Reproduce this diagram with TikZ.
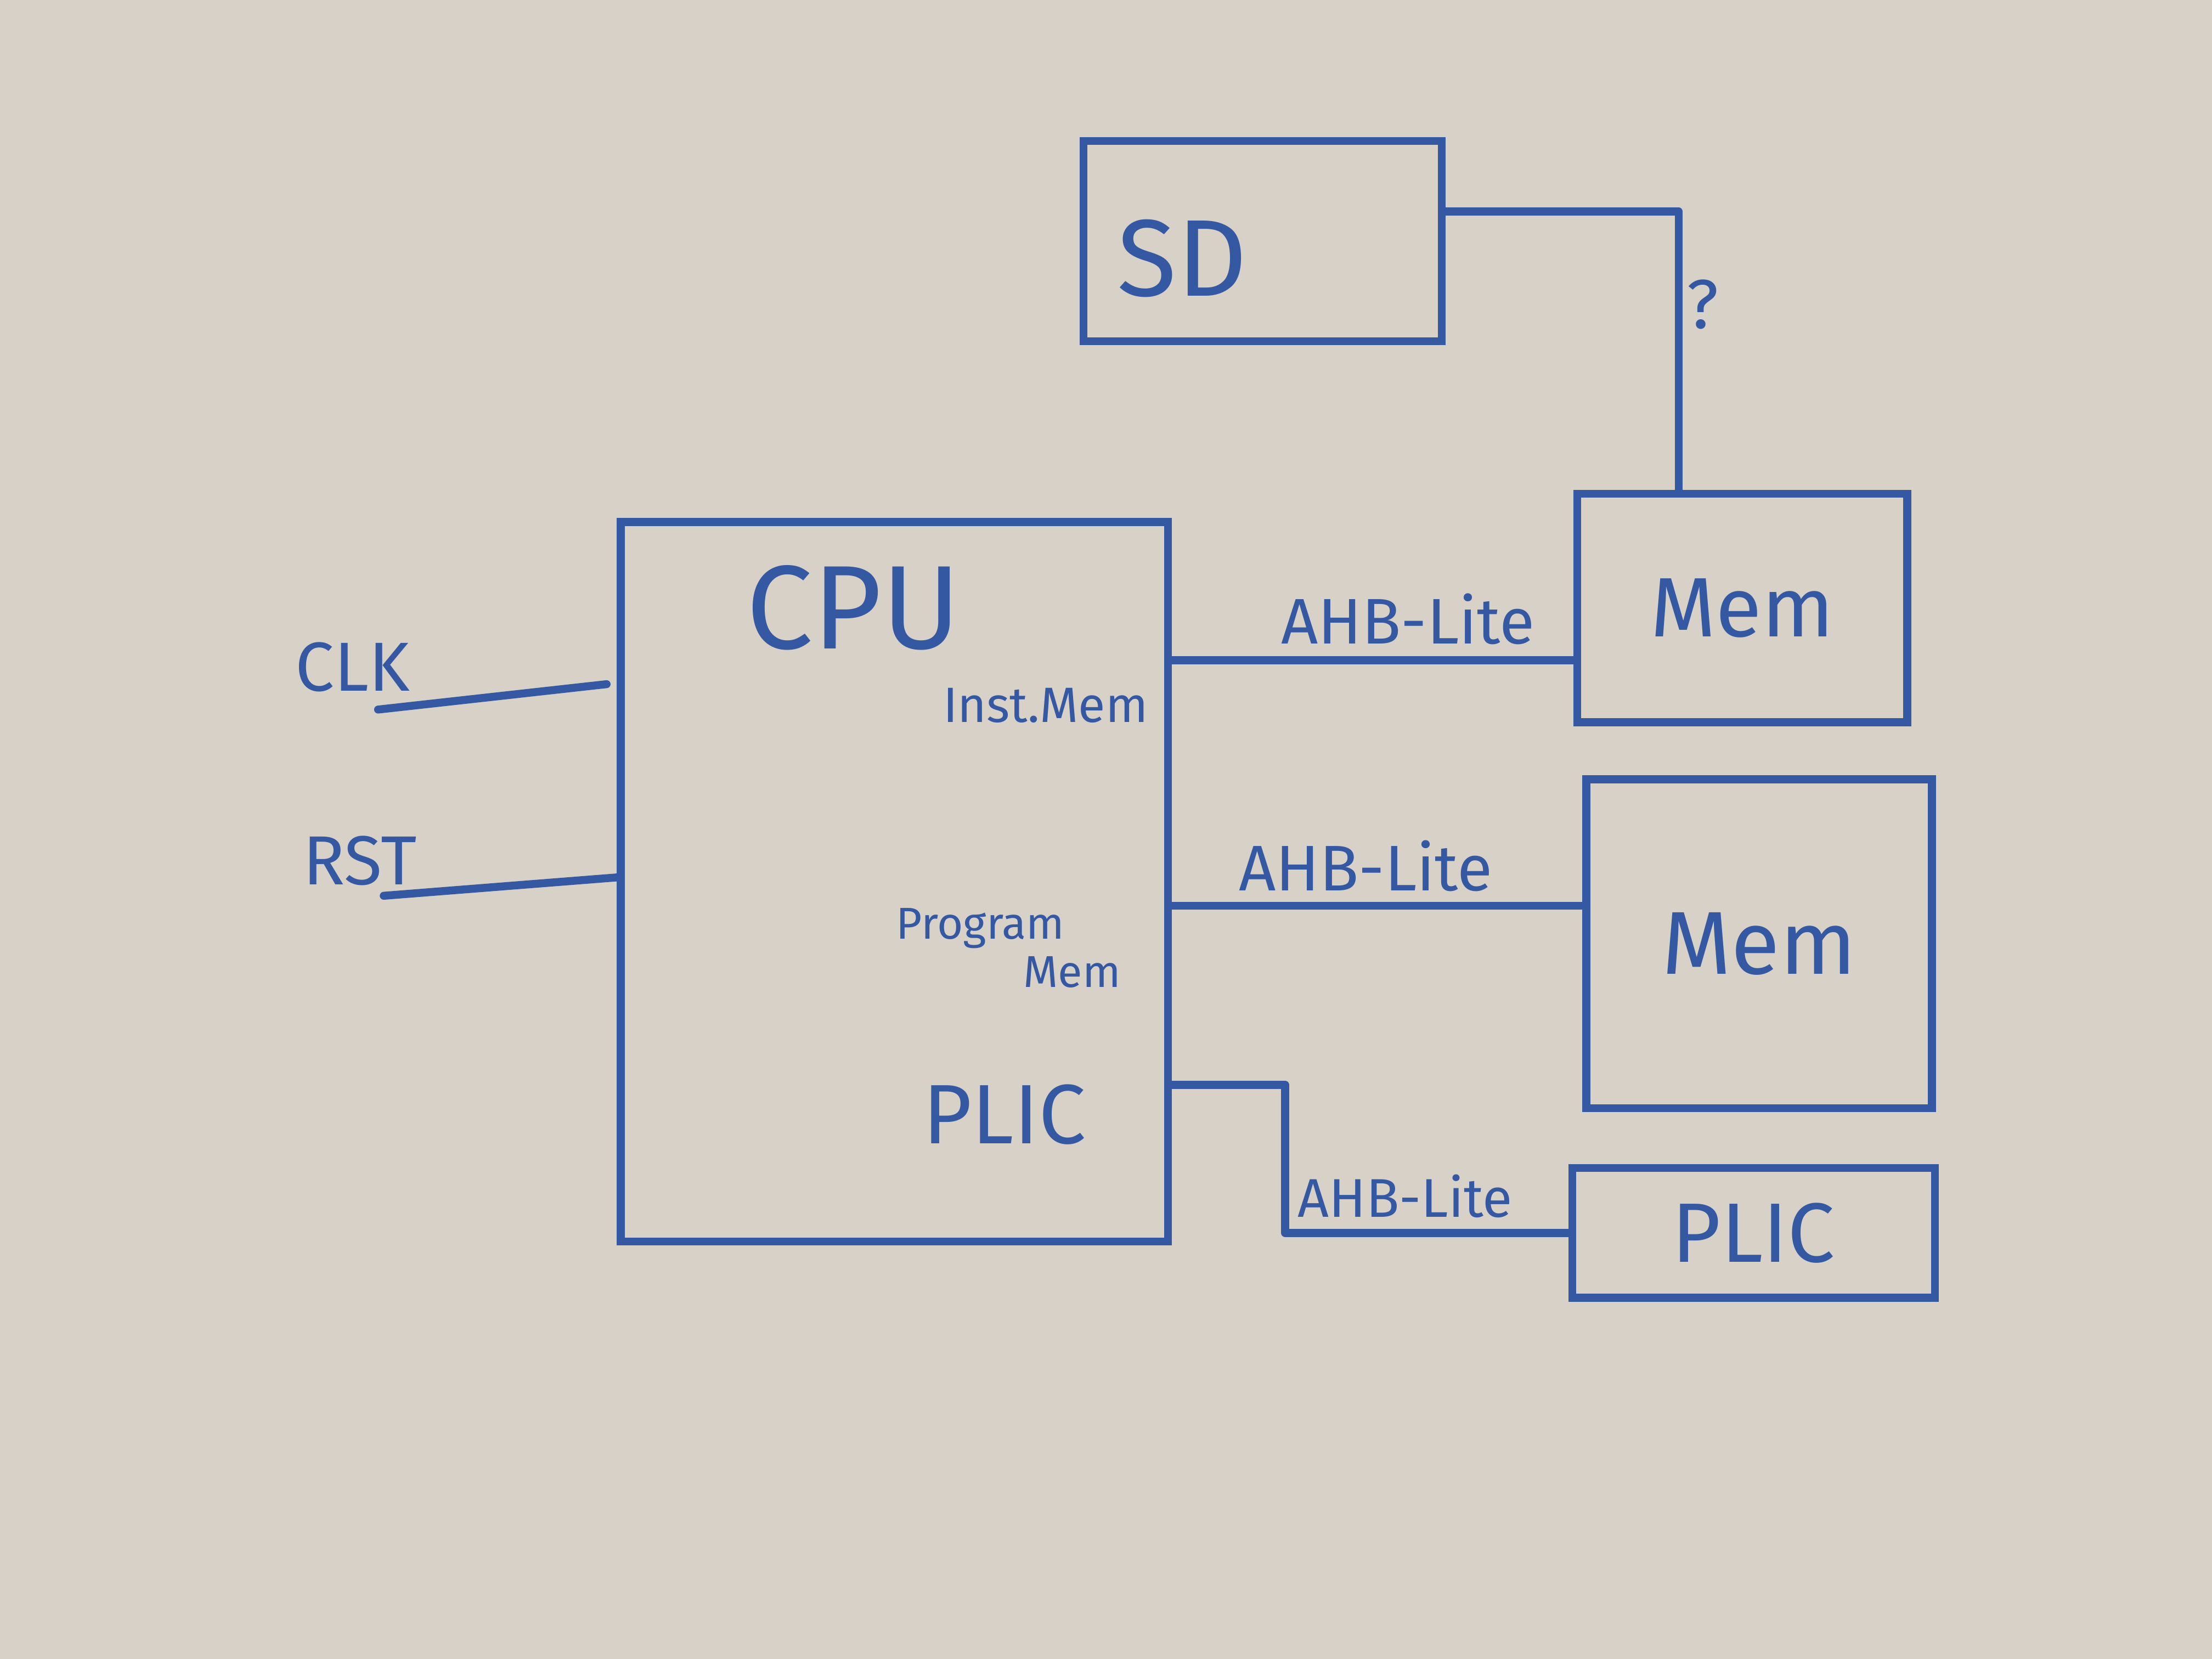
\documentclass[tikz,border=0pt]{standalone}
\usepackage{fontspec}
\setmainfont{Fira Sans}
\definecolor{ink}{HTML}{3558A3}
\definecolor{board}{HTML}{D7D1C7}

\begin{document}
\begin{tikzpicture}[font=\fontsize{12}{12}\selectfont,
  blk/.style={draw=ink,line width=1.6pt,shape=rectangle,text=ink,inner sep=0pt},
  wire/.style={draw=ink,line width=1.6pt,line cap=round,line join=round},
  lbl/.style={text=ink,inner sep=1pt}]
\path[fill=board] (0,0) rectangle (15.68,11.76);
\useasboundingbox (0,0) rectangle (15.68,11.76);
% blocks
\path (6.34,5.51) node(cpu) [blk,minimum width=3.88cm,minimum height=5.10cm] {};
\path (8.95,10.05) node(sd) [blk,minimum width=2.54cm,minimum height=1.42cm] {};
\path (12.35,7.45) node(mem_0) [blk,minimum width=2.34cm,minimum height=1.62cm,font=\fontsize{17}{17}\selectfont] {Mem};
\path (12.47,5.07) node(mem_1) [blk,minimum width=2.45cm,minimum height=2.33cm,font=\fontsize{18}{18}\selectfont] {Mem};
\path (12.43,3.02) node(plic) [blk,minimum width=2.57cm,minimum height=0.92cm,font=\fontsize{17}{17}\selectfont] {PLIC};
% texts inside
\path (8.38,9.93) node(sd_t) [lbl,font=\fontsize{22}{22}\selectfont] {SD};
\path (6.05,7.45) node(cpu_t) [lbl,font=\fontsize{24}{24}\selectfont] {CPU};
\path (8.18,6.76) node(inst_t) [lbl,anchor=east,font=\fontsize{10}{10}\selectfont] {Inst.Mem};
\path (6.95,5.18) node(prog_t) [lbl,font=\fontsize{9}{9}\selectfont] {Program};
\path (7.60,4.87) node(pmem_t) [lbl,font=\fontsize{9}{9}\selectfont] {Mem};
\path (7.12,3.86) node(pplic_t) [lbl,font=\fontsize{17}{17}\selectfont] {PLIC};
% inputs
\path (2.50,7.03) node(clk) [lbl,font=\fontsize{14}{14}\selectfont] {CLK};
\path (2.55,5.66) node(rst) [lbl,font=\fontsize{14}{14}\selectfont] {RST};
\coordinate (clk_a) at (2.68,6.73);
\coordinate (clk_b) at (4.30,6.91);
\coordinate (rst_a) at (2.72,5.41);
\coordinate (rst_b) at (4.37,5.54);
\draw[wire] (clk_a) -- (clk_b);
\draw[wire] (rst_a) -- (rst_b);
% ports on the cpu
\coordinate (p_inst) at (cpu.east |- 0,7.08);
\coordinate (p_prog) at (cpu.east |- 0,5.34);
\coordinate (p_plic) at (cpu.east |- 0,4.07);
\coordinate (k_0) at (9.11,4.07);
\coordinate (k_1) at (9.11,3.02);
\coordinate (k_2) at (11.70,10.26);
\coordinate (k_3) at (11.90,10.26);
% buses
\draw[wire] (p_inst) -- (mem_0.west |- p_inst);
\draw[wire] (p_prog) -- (mem_1.west |- p_prog);
\draw[wire] (p_plic) -- (k_0) -- (k_1) -- (plic.west);
\draw[wire] (sd.east |- k_2) -- (k_3) -- (mem_0.north -| k_3);
\path (9.98,7.37) node(bus_0) [lbl,font=\fontsize{13}{13}\selectfont] {AHB-Lite};
\path (9.68,5.62) node(bus_1) [lbl,font=\fontsize{13}{13}\selectfont] {AHB-Lite};
\path (9.96,3.28) node(bus_2) [lbl,font=\fontsize{11}{11}\selectfont] {AHB-Lite};
\path (12.07,9.60) node(q) [lbl,font=\fontsize{14}{14}\selectfont] {?};
\end{tikzpicture}
\end{document}
